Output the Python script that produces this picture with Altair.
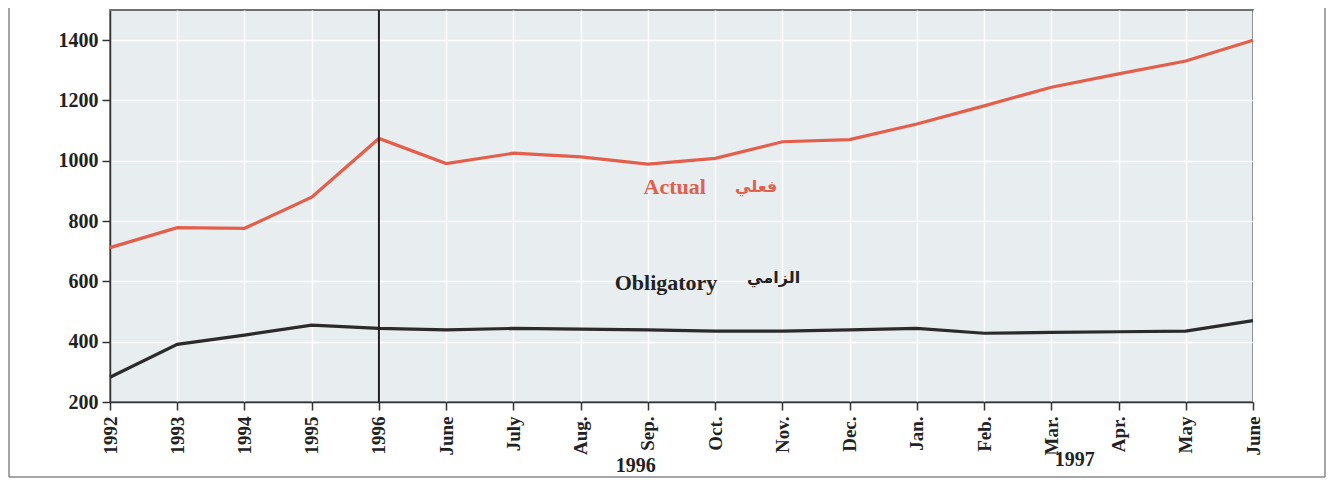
import altair as alt
import pandas as pd

tick_labels = ["1992", "1993", "1994", "1995", "1996", "June", "July", "Aug.", "Sep.",
               "Oct.", "Nov.", "Dec.", "Jan.", "Feb.", "Mar.", "Apr.", "May", "June"]
actual = [712, 778, 776, 879, 1074, 991, 1025, 1013, 989, 1008, 1063, 1070,
          1122, 1182, 1244, 1288, 1331, 1400]
obligatory = [282, 391, 422, 455, 444, 439, 444, 442, 439, 435, 435, 439,
              444, 428, 431, 433, 435, 470]
y_ticks = [200, 400, 600, 800, 1000, 1200, 1400]
series_names = ["Actual", "Obligatory"]
series_colors = ["#e45f4b", "#2b2b2b"]

W, H = 1143, 392
idx = list(range(len(tick_labels)))
n = len(idx)

df = pd.DataFrame({
    "i": idx + idx,
    "value": actual + obligatory,
    "series": [series_names[0]] * n + [series_names[1]] * n,
})

label_expr = "[" + ",".join("'%s'" % t for t in tick_labels) + "][datum.value]"

x_scale = alt.Scale(domain=[0, n - 1], nice=False, zero=False)
y_scale = alt.Scale(domain=[200, 1500], nice=False, zero=False)

x_axis = alt.Axis(values=idx, labelExpr=label_expr, labelAngle=270, title=None,
                  tickSize=8, labelPadding=6, grid=True)
y_axis = alt.Axis(values=y_ticks, format="d", title=None, tickSize=8, labelPadding=4,
                  grid=True, minExtent=97, maxExtent=97, labelFontSize=20)

lines = alt.Chart(df).mark_line(strokeWidth=3.2).encode(
    x=alt.X("i:Q", scale=x_scale, axis=x_axis),
    y=alt.Y("value:Q", scale=y_scale, axis=y_axis),
    color=alt.Color("series:N", scale=alt.Scale(domain=series_names, range=series_colors),
                    legend=None),
)

divider = alt.Chart(pd.DataFrame({"i": [4]})).mark_rule(color="#222", strokeWidth=2).encode(
    x=alt.X("i:Q", scale=x_scale),
    y=alt.value(0),
    y2=alt.value(H),
)

ann = pd.DataFrame({
    "i": [8.40, 9.61, 8.27, 9.87],
    "v": [913, 913, 595, 611],
    "t": ["Actual", "فعلي", "Obligatory", "الزامي"],
})

def ann_text(row, color, font, size):
    return alt.Chart(ann.iloc[[row]]).mark_text(
        font=font, fontWeight="bold", fontSize=size, color=color,
        align="center", baseline="middle",
    ).encode(
        x=alt.X("i:Q", scale=x_scale),
        y=alt.Y("v:Q", scale=y_scale),
        text="t:N",
    )

t_actual = ann_text(0, "#e0604e", "Liberation Serif", 22)
t_actual_ar = ann_text(1, "#e0604e", "DejaVu Sans", 16)
t_oblig = ann_text(2, "#222", "Liberation Serif", 22)
t_oblig_ar = ann_text(3, "#222", "DejaVu Sans", 16)

groups = pd.DataFrame({"i": [7.82, 14.35], "t": ["1996", "1997"]})

g1996 = alt.Chart(groups.iloc[[0]]).mark_text(
    font="Liberation Serif", fontWeight="bold", fontSize=20, color="#222",
    align="center", baseline="middle",
).encode(x=alt.X("i:Q", scale=x_scale), y=alt.value(H + 64), text="t:N")

g1997 = alt.Chart(groups.iloc[[1]]).mark_text(
    font="Liberation Serif", fontWeight="bold", fontSize=20, color="#222",
    align="center", baseline="middle",
).encode(x=alt.X("i:Q", scale=x_scale), y=alt.value(H + 58), text="t:N")

one = pd.DataFrame({"a": [0]})
frame_left = alt.Chart(one).mark_rule(color="#888", strokeWidth=1.5).encode(
    x=alt.value(-101), y=alt.value(-2), y2=alt.value(H + 75))
frame_right = alt.Chart(one).mark_rule(color="#888", strokeWidth=1.5).encode(
    x=alt.value(W + 72), y=alt.value(-2), y2=alt.value(H + 75))
frame_bottom = alt.Chart(one).mark_rule(color="#888", strokeWidth=1.5).encode(
    x=alt.value(-101), x2=alt.value(W + 72), y=alt.value(H + 75))

chart = alt.layer(
    lines, divider, t_actual, t_actual_ar, t_oblig, t_oblig_ar, g1996, g1997,
    frame_left, frame_right, frame_bottom,
).properties(
    width=W, height=H,
    autosize=alt.AutoSizeParams(type="none"),
    padding={"left": 102, "top": 2, "right": 74, "bottom": 77},
).configure_view(
    fill="#e8edf0", stroke="#444", strokeWidth=1.5,
).configure_axis(
    gridColor="white", gridWidth=1.5, domainColor="#333", domainWidth=1.5,
    tickColor="#333", tickWidth=1.5,
    labelFont="Liberation Serif", labelFontWeight="bold", labelFontSize=19,
    labelColor="#222",
)

chart.save("out.html", embed_options={"renderer": "svg", "actions": False})
